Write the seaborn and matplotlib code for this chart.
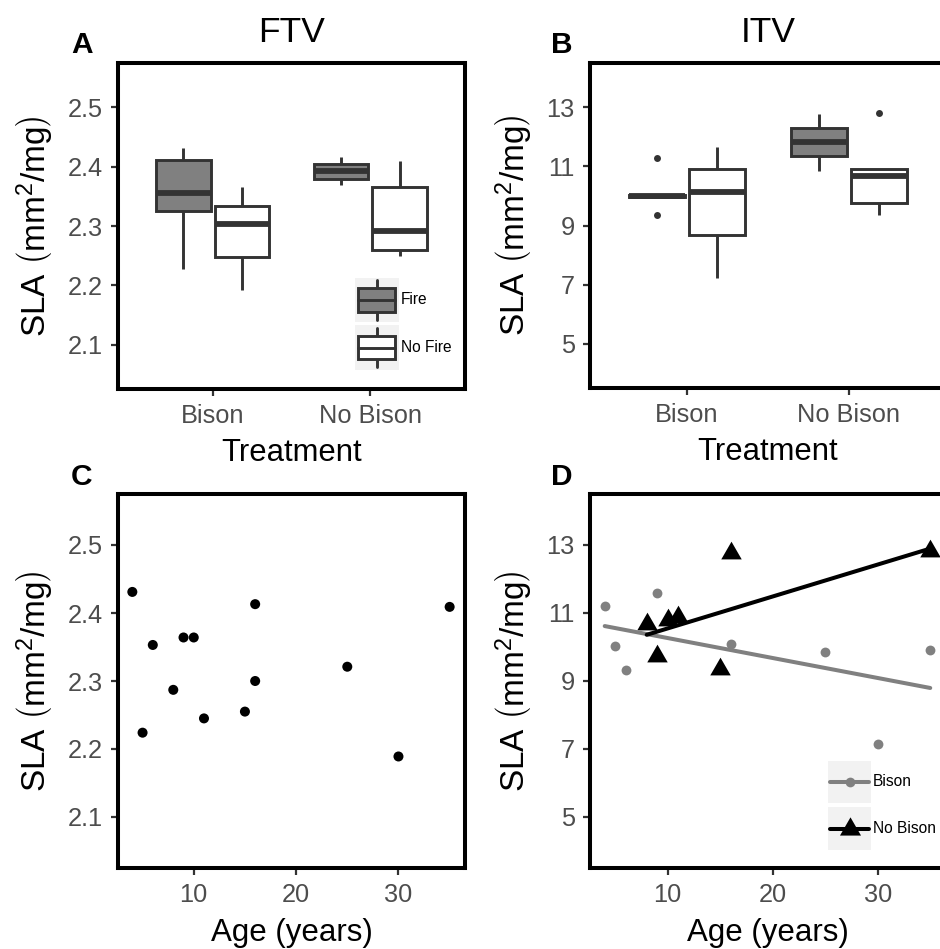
# SLA of bison / fire treatments (FTV and ITV) and relationship with stand age

import numpy as np
import pandas as pd
import matplotlib
matplotlib.use('Agg')
import matplotlib.pyplot as plt
import seaborn as sns
from matplotlib.legend_handler import HandlerBase
from matplotlib.patches import Rectangle
from matplotlib.lines import Line2D

# 1. Data
treatments = ['Bison', 'No Bison']
fire_levels = ['Fire', 'No Fire']
grazing_levels = ['Bison', 'No Bison']

# FTV per group: whisker low, q1, median, q3, whisker high
ftv_bison_fire = [2.228, 2.325, 2.356, 2.411, 2.432]
ftv_bison_nofire = [2.192, 2.247, 2.304, 2.334, 2.365]
ftv_nobison_fire = [2.369, 2.380, 2.393, 2.405, 2.416]
ftv_nobison_nofire = [2.250, 2.259, 2.291, 2.366, 2.410]

# ITV per group (outliers included)
itv_bison_fire = [9.34, 9.95, 9.99, 10.03, 11.27]
itv_bison_nofire = [7.24, 8.69, 10.15, 10.91, 11.67]
itv_nobison_fire = [10.86, 11.34, 11.83, 12.30, 12.76]
itv_nobison_nofire = [9.37, 9.77, 10.66, 10.91, 12.82]

# FTV against age
age_ftv = [4, 5, 6, 8, 9, 10, 11, 15, 16, 16, 25, 30, 35]
ftv_age = [2.431, 2.224, 2.353, 2.287, 2.364, 2.364, 2.245, 2.255, 2.413, 2.300, 2.321, 2.189, 2.409]

# ITV against age, by grazing
age_bison = [4, 5, 6, 9, 16, 25, 30, 35]
itv_bison = [11.22, 10.02, 9.31, 11.60, 10.10, 9.85, 7.16, 9.91]
age_nobison = [8, 9, 10, 11, 15, 16, 35]
itv_nobison = [10.67, 9.75, 10.80, 10.87, 9.35, 12.76, 12.82]

box_df = pd.DataFrame({
    'treatment': np.repeat(['Bison', 'Bison', 'No Bison', 'No Bison'], 5),
    'fire': np.repeat(['Fire', 'No Fire', 'Fire', 'No Fire'], 5),
    'ftv': ftv_bison_fire + ftv_bison_nofire + ftv_nobison_fire + ftv_nobison_nofire,
    'itv': itv_bison_fire + itv_bison_nofire + itv_nobison_fire + itv_nobison_nofire,
})

# 2. Style
sns.set_theme(style='ticks')
plt.rcParams['font.family'] = ['Liberation Sans', 'DejaVu Sans']
plt.rcParams['mathtext.fontset'] = 'custom'
plt.rcParams['mathtext.rm'] = 'Liberation Sans'
plt.rcParams['mathtext.it'] = 'Liberation Sans:italic'
plt.rcParams['mathtext.bf'] = 'Liberation Sans:bold'
plt.rcParams['text.color'] = 'black'
plt.rcParams['axes.labelcolor'] = 'black'

GREY = '#808080'
DARK = '#333333'
sla_label = r'SLA $\left(\mathrm{mm^2/mg}\right)$'
# R-style triangle (centred on its circumcentre)
tri = [(0, 1), (-0.866, -0.5), (0.866, -0.5)]


class KeyHandler(HandlerBase):
    # ggplot-like legend key: grey square with the glyph on it
    def create_artists(self, legend, orig_handle, xdescent, ydescent, width, height, fontsize, trans):
        x0, y0 = -xdescent, -ydescent
        arts = [Rectangle((x0, y0), width, height, facecolor='#f2f2f2', edgecolor='none', transform=trans)]
        if isinstance(orig_handle, Rectangle):
            cx = x0 + width / 2
            arts.append(Line2D([cx, cx], [y0 + 0.05 * height, y0 + 0.95 * height],
                               color=DARK, lw=2.1, transform=trans))
            arts.append(Rectangle((x0 + 0.07 * width, y0 + 0.23 * height), 0.83 * width, 0.54 * height,
                                  facecolor=orig_handle.get_facecolor(), edgecolor=DARK, lw=2.1,
                                  transform=trans))
            arts.append(Line2D([x0 + 0.07 * width, x0 + 0.9 * width], [y0 + height / 2] * 2,
                               color=DARK, lw=2.1, transform=trans))
        else:
            arts.append(Line2D([x0 + 0.05 * width, x0 + 0.95 * width], [y0 + height / 2] * 2,
                               color=orig_handle.get_color(), lw=orig_handle.get_linewidth(),
                               transform=trans))
            arts.append(Line2D([x0 + width / 2], [y0 + height / 2], linestyle='none',
                               marker=orig_handle.get_marker(), markersize=orig_handle.get_markersize(),
                               color=orig_handle.get_color(), markeredgewidth=0, transform=trans))
        return arts


def style_axes(ax):
    for s in ax.spines.values():
        s.set_linewidth(2.9)
        s.set_color('black')
    ax.tick_params(length=5, width=1.6, color=DARK, labelcolor='#4d4d4d', labelsize=18.3, pad=6)


fig = plt.figure(figsize=(9.4, 9.49), dpi=100)
W, H = 940, 949
axA = fig.add_axes([118 / W, 1 - 389 / H, 347 / W, 326 / H])
axB = fig.add_axes([590 / W, 1 - 388 / H, 356 / W, 325 / H])
axC = fig.add_axes([118 / W, 1 - 868 / H, 347 / W, 374 / H])
axD = fig.add_axes([590 / W, 1 - 868 / H, 356 / W, 374 / H])

box_kws = dict(x='treatment', hue='fire', order=treatments, hue_order=fire_levels,
               palette={'Fire': GREY, 'No Fire': 'white'}, linecolor=DARK, linewidth=2.1,
               width=0.74, gap=0.07, whis=1.5, legend=False,
               medianprops=dict(linewidth=4.2), capprops=dict(linewidth=0),
               flierprops=dict(marker='o', markersize=5, markerfacecolor=DARK,
                               markeredgecolor=DARK, markeredgewidth=0))

# 3. Panel A - FTV boxplot
sns.boxplot(data=box_df, y='ftv', ax=axA, **box_kws)
axA.set_ylim(2.025, 2.575)
axA.set_yticks([2.1, 2.2, 2.3, 2.4, 2.5])
axA.set_xlim(-0.6, 1.6)
axA.set_title('FTV', fontsize=25.5, pad=15)
fire_handles = [Rectangle((0, 0), 1, 1, facecolor=GREY), Rectangle((0, 0), 1, 1, facecolor='white')]
axA.legend(fire_handles, fire_levels, handler_map={Rectangle: KeyHandler()},
           loc='upper left', bbox_to_anchor=(0.683, 0.340), borderaxespad=0, borderpad=0,
           frameon=False, fontsize=11.2, handlelength=2.83, handleheight=3.98,
           labelspacing=0.21, handletextpad=0.12)

# Panel B - ITV boxplot
sns.boxplot(data=box_df, y='itv', ax=axB, **box_kws)
axB.set_ylim(3.5, 14.5)
axB.set_yticks([5, 7, 9, 11, 13])
axB.set_xlim(-0.6, 1.6)
axB.set_title('ITV', fontsize=25.5, pad=15)

for ax in (axA, axB):
    ax.set_xlabel('Treatment', fontsize=22.3)

# Panel C - FTV vs age
sns.scatterplot(x=age_ftv, y=ftv_age, color='black', s=52, edgecolor='none', ax=axC)
axC.set_ylim(2.025, 2.575)
axC.set_yticks([2.1, 2.2, 2.3, 2.4, 2.5])

# Panel D - ITV vs age with linear fits
sns.regplot(x=age_bison, y=itv_bison, ci=None, color=GREY, marker='o',
            scatter_kws=dict(s=50, linewidths=0, alpha=1), line_kws=dict(lw=2.9), ax=axD)
sns.regplot(x=age_nobison, y=itv_nobison, ci=None, color='black', marker=tri,
            scatter_kws=dict(s=290, linewidths=0, alpha=1), line_kws=dict(lw=2.9), ax=axD)
axD.set_ylim(3.5, 14.5)
axD.set_yticks([5, 7, 9, 11, 13])
graze_handles = [Line2D([], [], color=GREY, lw=2.9, marker='o', markersize=7),
                 Line2D([], [], color='black', lw=2.9, marker=tri, markersize=17.5)]
axD.legend(graze_handles, grazing_levels, handler_map={Line2D: KeyHandler()},
           loc='upper left', bbox_to_anchor=(0.669, 0.286), borderaxespad=0, borderpad=0,
           frameon=False, fontsize=11.2, handlelength=2.77, handleheight=3.81,
           labelspacing=0.26, handletextpad=0.12)

for ax in (axC, axD):
    ax.set_xlim(2.6, 36.5)
    ax.set_xticks([10, 20, 30])
    ax.set_xlabel('Age (years)', fontsize=22.5)

for ax in (axA, axB, axC, axD):
    style_axes(ax)
    ax.set_ylabel(sla_label, fontsize=24)

axA.yaxis.set_label_coords(-0.178, 0.5)
axB.yaxis.set_label_coords(-0.155, 0.5)
axC.yaxis.set_label_coords(-0.178, 0.5)
axD.yaxis.set_label_coords(-0.155, 0.5)
axA.xaxis.set_label_coords(0.5, -0.150)
axB.xaxis.set_label_coords(0.5, -0.150)
axC.xaxis.set_label_coords(0.5, -0.134)
axD.xaxis.set_label_coords(0.5, -0.134)

# panel letters
for letter, x, y in [('A', 82, 53), ('B', 562, 53), ('C', 82, 485), ('D', 562, 485)]:
    fig.text(x / W, 1 - y / H, letter, ha='center', va='baseline', fontsize=21.5, fontweight='bold')

fig.savefig('out.png', dpi=100)
